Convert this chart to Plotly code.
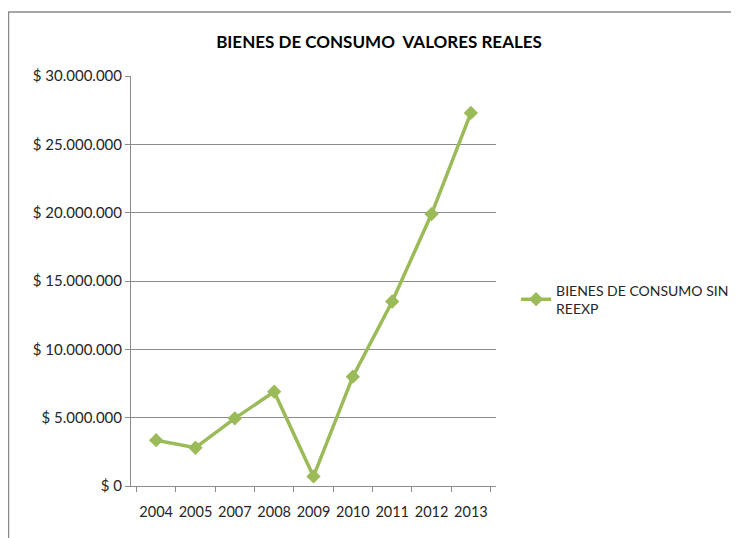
import plotly.graph_objects as go

# data
years = ["2004", "2005", "2007", "2008", "2009", "2010", "2011", "2012", "2013"]
valores = [3350000, 2800000, 4950000, 6900000, 700000, 8000000, 13500000, 19900000, 27300000]
y_ticks = [0, 5000000, 10000000, 15000000, 20000000, 25000000, 30000000]
y_labels = ["$ 0", "$ 5.000.000", "$ 10.000.000", "$ 15.000.000",
            "$ 20.000.000", "$ 25.000.000", "$ 30.000.000"]

GREEN = "#9BBB59"
GRID = "#8C8C8C"
FONT = "Lato, 'Open Sans', sans-serif"

# plot area in figure pixels (page has an 8px body offset)
FW, FH = 731, 530
L, T, W, H = 123, 68, 365, 410

fig = go.Figure(go.Scatter(
    x=years,
    y=valores,
    mode="lines+markers",
    name="BIENES DE CONSUMO SIN<br>REEXP",
    line=dict(color=GREEN, width=3.5),
    marker=dict(symbol="diamond", size=11, color=GREEN),
))

fig.update_layout(
    width=FW,
    height=FH,
    margin=dict(l=L, r=FW - L - W, t=T, b=FH - T - H, autoexpand=False),
    paper_bgcolor="white",
    plot_bgcolor="white",
    font=dict(family=FONT, size=14.5, color="#262626"),
    title=dict(
        text="<b>BIENES DE CONSUMO  VALORES REALES</b>",
        x=(371 / FW), xanchor="center",
        y=1 - 34 / FH, yanchor="middle",
        font=dict(family=FONT, size=17, color="black"),
    ),
    showlegend=True,
    legend=dict(
        x=1.055, xanchor="left",
        y=0.455, yanchor="middle",
        itemwidth=30,
        font=dict(family=FONT, size=14, color="#262626"),
        bgcolor="rgba(0,0,0,0)",
    ),
    xaxis=dict(
        type="category",
        showgrid=False,
        showline=True,
        linecolor=GRID,
        linewidth=1,
        ticks="outside",
        tickson="boundaries",
        ticklen=5,
        tickcolor=GRID,
        tickangle=0,
        ticklabelstandoff=13,
        automargin=False,
    ),
    yaxis=dict(
        range=[0, 30000000],
        tickvals=y_ticks,
        ticktext=y_labels,
        tickfont=dict(size=15),
        showgrid=True,
        gridcolor=GRID,
        gridwidth=1,
        showline=True,
        linecolor=GRID,
        linewidth=1,
        ticks="outside",
        ticklen=5,
        tickcolor=GRID,
        zeroline=False,
        automargin=False,
    ),
)

# outer chart frame (runs off the right and bottom edges like the reference)
fig.add_shape(
    type="rect",
    xref="paper", yref="paper",
    x0=(0.5 - L) / W, x1=(760 - L) / W,
    y0=(T + H - 560) / H, y1=(T + H - 4) / H,
    line=dict(color="#8A8A8A", width=1.5),
    layer="below",
)

fig.write_html("out.html")
